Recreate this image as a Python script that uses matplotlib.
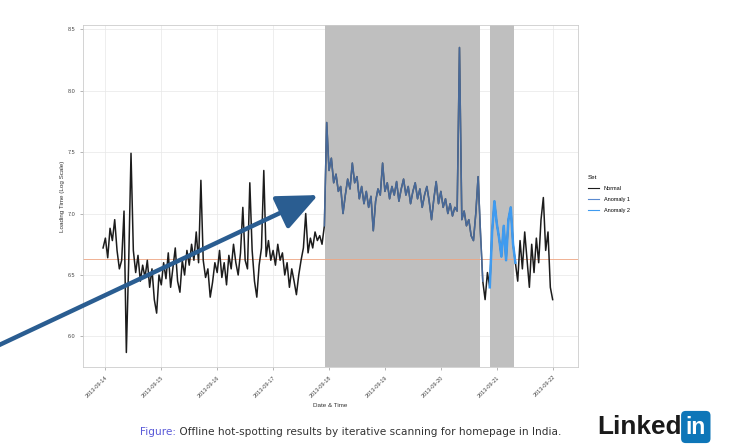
import numpy as np
import matplotlib.pyplot as plt
from matplotlib.lines import Line2D

# hourly loading time (log scale), split by detected set
normal_1 = [6.72, 6.80, 6.64, 6.88, 6.78, 6.95, 6.70, 6.55, 6.62, 7.02,
            5.87, 6.60, 7.49, 6.70, 6.52, 6.66, 6.45, 6.58, 6.48, 6.62,
            6.40, 6.55, 6.30, 6.19, 6.50, 6.42, 6.60, 6.47, 6.68, 6.40,
            6.56, 6.72, 6.45, 6.36, 6.62, 6.50, 6.70, 6.58, 6.75, 6.62,
            6.85, 6.60, 7.27, 6.62, 6.48, 6.55, 6.32, 6.44, 6.60, 6.52,
            6.70, 6.48, 6.60, 6.42, 6.66, 6.55, 6.75, 6.60, 6.50, 6.68,
            7.05, 6.62, 6.55, 7.25, 6.70, 6.45, 6.32, 6.58, 6.72, 7.35,
            6.65, 6.78, 6.62, 6.70, 6.58, 6.75, 6.62, 6.68, 6.50, 6.60,
            6.40, 6.55, 6.45, 6.34, 6.50, 6.62, 6.72, 7.00, 6.68, 6.80,
            6.72, 6.85, 6.78, 6.82, 6.75, 6.90]
anomaly_1 = [7.74, 7.35, 7.45, 7.25, 7.32, 7.18, 7.22, 7.00, 7.15, 7.28,
             7.20, 7.41, 7.25, 7.30, 7.12, 7.22, 7.08, 7.18, 7.05, 7.14,
             6.86, 7.10, 7.20, 7.15, 7.41, 7.18, 7.25, 7.12, 7.22, 7.15,
             7.26, 7.10, 7.20, 7.28, 7.15, 7.22, 7.08, 7.18, 7.25, 7.12,
             7.20, 7.05, 7.15, 7.22, 7.10, 6.95, 7.12, 7.26, 7.08, 7.18,
             7.05, 7.12, 7.00, 7.08, 6.98, 7.05, 7.02, 8.35, 6.95, 7.02,
             6.90, 6.95, 6.82, 6.78, 7.00, 7.30, 6.85]
normal_gap = [6.45, 6.30, 6.52, 6.40]
anomaly_2 = [6.85, 7.10, 6.92, 6.80, 6.65, 6.90, 6.62, 6.95, 7.05, 6.75]
normal_2 = [6.60, 6.45, 6.78, 6.55, 6.85, 6.62, 6.40, 6.75, 6.52, 6.80,
            6.60, 6.95, 7.13, 6.70, 6.85, 6.40, 6.30]

start_hour = 23
anomaly_1_span = (118.3, 184.8)
anomaly_2_span = (189.1, 199.4)
threshold = 6.63

x_ticks = [24, 48, 72, 96, 120, 144, 168, 192, 216]
x_labels = ['2013-09-14', '2013-09-15', '2013-09-16', '2013-09-17', '2013-09-18',
            '2013-09-19', '2013-09-20', '2013-09-21', '2013-09-22']
y_ticks = [6.0, 6.5, 7.0, 7.5, 8.0, 8.5]

load = np.array(normal_1 + anomaly_1 + normal_gap + anomaly_2 + normal_2)
hours = start_hour + np.arange(len(load))
n1 = len(normal_1)
a1_end = n1 + len(anomaly_1)
a2_start = a1_end + len(normal_gap)
a2_end = a2_start + len(anomaly_2)

plt.rcParams['font.family'] = ['Liberation Sans', 'DejaVu Sans']
fig = plt.figure(figsize=(7.36, 4.45), dpi=100)
ax = fig.add_axes([0.1128, 0.1753, 0.6726, 0.7685])

ax.axvspan(*anomaly_1_span, color='#bfbfbf', lw=0, zorder=1)
ax.axvspan(*anomaly_2_span, color='#bfbfbf', lw=0, zorder=1)
ax.axhline(threshold, color='#eea582', lw=0.6, zorder=1.5)

ax.plot(hours, load, color='#1c1c1c', lw=1.1, zorder=2)
ax.plot(hours[n1 - 1:a1_end + 1], load[n1 - 1:a1_end + 1],
        color='#5a8ad0', lw=1.1, alpha=0.7, zorder=3)
ax.plot(hours[a2_start - 1:a2_end + 1], load[a2_start - 1:a2_end + 1],
        color='#3f9bf0', lw=1.8, zorder=3)

ax.set_xlim(14.4, 226.9)
ax.set_ylim(5.752, 8.533)
ax.set_xticks(x_ticks)
ax.set_xticklabels(x_labels, rotation=45, ha='right', rotation_mode='anchor')
ax.set_yticks(y_ticks)
ax.set_yticklabels(['%.1f' % v for v in y_ticks])
ax.tick_params(labelsize=4, length=2, width=0.5, color='#999999', labelcolor='#444444')
ax.grid(True, color='#e8e8e8', lw=0.5, zorder=0)
ax.set_axisbelow(True)
for s in ax.spines.values():
    s.set_color('#cccccc')
    s.set_linewidth(0.6)
ax.set_xlabel('Date & Time', fontsize=4.5, labelpad=3, color='#333333')
ax.set_ylabel('Loading Time (Log Scale)', fontsize=4.5, labelpad=2, color='#333333')

handles = [Line2D([], [], color='#1c1c1c', lw=0.8),
           Line2D([], [], color='#5a8ad0', lw=0.8),
           Line2D([], [], color='#3f9bf0', lw=0.8)]
leg = fig.legend(handles, ['Normal', 'Anomaly 1', 'Anomaly 2'], title='Set',
                 loc='upper left', bbox_to_anchor=(583 / 736, 1 - 170 / 445),
                 fontsize=4, title_fontsize=4.5, frameon=False,
                 handlelength=2, labelspacing=1.1, alignment='left')

# arrow pointing at the start of the anomaly
ax.annotate('', xy=(115.3, 7.15), xytext=(-5, 98), textcoords='figure pixels',
            arrowprops=dict(arrowstyle='-|>,head_length=1.25,head_width=0.55',
                            mutation_scale=20, lw=3.2, color='#2a5d91',
                            shrinkA=0, shrinkB=0),
            annotation_clip=False, zorder=10)

cap = fig.text(140 / 736, 1 - 432 / 445, 'Figure:', fontsize=7.6,
               color='#5a5ad8', va='center', family='DejaVu Sans')
ax.annotate(' Offline hot-spotting results by iterative scanning for homepage in India.',
            xy=(1, 0.5), xycoords=cap, va='center', fontsize=7.6, color='#333333',
            family='DejaVu Sans')

logo = fig.text(597 / 736, 1 - 427 / 445, 'Linked', fontsize=18.8, weight='bold',
                color='#1a1a1a', va='center')
ax.annotate('in', xy=(1, 0.5), xycoords=logo, xytext=(3, 0), textcoords='offset points',
            va='center', fontsize=16.5, weight='bold', color='white',
            bbox=dict(boxstyle='round,pad=0.2', fc='#0e76b8', ec='none'))

fig.savefig('out.png', dpi=100)
